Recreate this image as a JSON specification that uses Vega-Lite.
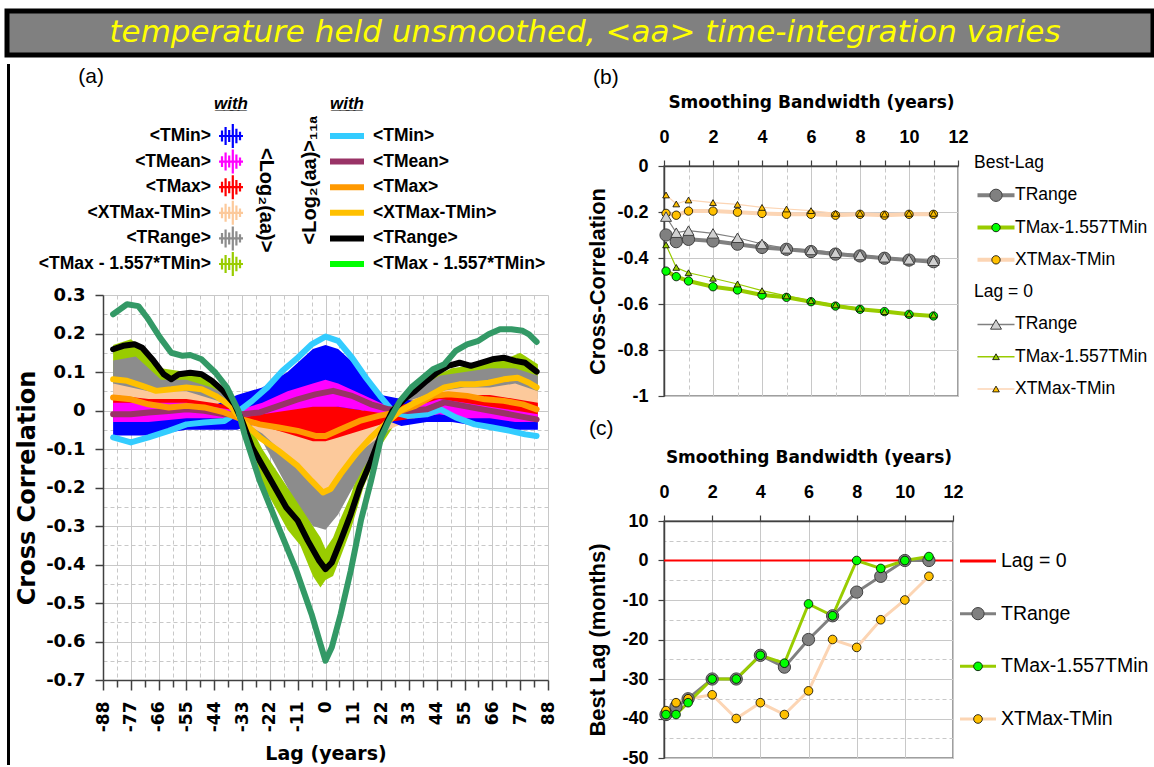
{
  "$schema": "https://vega.github.io/schema/vega-lite/v6.json",
  "padding": {"left": 4, "top": 8, "right": 0, "bottom": 0},
  "background": "#ffffff",
  "spacing": 6,
  "resolve": {"scale": {"color": "independent", "fill": "independent", "stroke": "independent"}},
  "config": {
    "view": {"stroke": null},
    "axis": {"domainColor": "#404040", "tickColor": "#404040", "gridColor": "#c8c8c8", "labelColor": "#000000", "titleColor": "#000000", "labelOverlap": false, "labelFlush": false},
    "title": {"color": "#000000"}
  },
  "datasets": {
    "aline": [
      {"s":"TMin","lag":-84,"v":-0.07},{"s":"TMin","lag":-77,"v":-0.083},{"s":"TMin","lag":-70,"v":-0.07},{"s":"TMin","lag":-62,"v":-0.053},{"s":"TMin","lag":-55,"v":-0.036},{"s":"TMin","lag":-48,"v":-0.031},{"s":"TMin","lag":-40,"v":-0.027},{"s":"TMin","lag":-35,"v":-0.005},{"s":"TMin","lag":-29,"v":0.025},{"s":"TMin","lag":-23,"v":0.06},{"s":"TMin","lag":-17,"v":0.103},{"s":"TMin","lag":-11,"v":0.137},{"s":"TMin","lag":-5.5,"v":0.172},{"s":"TMin","lag":0,"v":0.192},{"s":"TMin","lag":5,"v":0.181},{"s":"TMin","lag":10.5,"v":0.137},{"s":"TMin","lag":16,"v":0.085},{"s":"TMin","lag":22,"v":0.034},{"s":"TMin","lag":27,"v":-0.005},{"s":"TMin","lag":32.5,"v":-0.014},{"s":"TMin","lag":40,"v":-0.01},{"s":"TMin","lag":45.5,"v":0.003},{"s":"TMin","lag":51.5,"v":-0.018},{"s":"TMin","lag":59,"v":-0.036},{"s":"TMin","lag":66,"v":-0.044},{"s":"TMin","lag":73,"v":-0.053},{"s":"TMin","lag":79,"v":-0.062},{"s":"TMin","lag":83.5,"v":-0.066},
      {"s":"TMean","lag":-84,"v":-0.01},{"s":"TMean","lag":-77,"v":-0.01},{"s":"TMean","lag":-70,"v":-0.005},{"s":"TMean","lag":-62,"v":-0.001},{"s":"TMean","lag":-55,"v":0.003},{"s":"TMean","lag":-48,"v":-0.001},{"s":"TMean","lag":-40,"v":-0.01},{"s":"TMean","lag":-33,"v":-0.01},{"s":"TMean","lag":-26,"v":-0.005},{"s":"TMean","lag":-18.5,"v":0.012},{"s":"TMean","lag":-11,"v":0.029},{"s":"TMean","lag":-4,"v":0.042},{"s":"TMean","lag":3,"v":0.051},{"s":"TMean","lag":10.5,"v":0.038},{"s":"TMean","lag":18,"v":0.016},{"s":"TMean","lag":25,"v":0.003},{"s":"TMean","lag":32.5,"v":-0.001},{"s":"TMean","lag":40,"v":0.003},{"s":"TMean","lag":47,"v":0.021},{"s":"TMean","lag":54.5,"v":0.012},{"s":"TMean","lag":62,"v":0.003},{"s":"TMean","lag":69,"v":-0.005},{"s":"TMean","lag":76,"v":-0.014},{"s":"TMean","lag":83.5,"v":-0.023},
      {"s":"TMax","lag":-84,"v":0.034},{"s":"TMax","lag":-77,"v":0.029},{"s":"TMax","lag":-70,"v":0.016},{"s":"TMax","lag":-62,"v":0.008},{"s":"TMax","lag":-55,"v":0.012},{"s":"TMax","lag":-48,"v":0.008},{"s":"TMax","lag":-40,"v":-0.005},{"s":"TMax","lag":-33,"v":-0.023},{"s":"TMax","lag":-26,"v":-0.036},{"s":"TMax","lag":-18.5,"v":-0.044},{"s":"TMax","lag":-11,"v":-0.053},{"s":"TMax","lag":-4,"v":-0.066},{"s":"TMax","lag":0,"v":-0.066},{"s":"TMax","lag":6,"v":-0.049},{"s":"TMax","lag":13.5,"v":-0.027},{"s":"TMax","lag":21,"v":-0.014},{"s":"TMax","lag":28,"v":-0.005},{"s":"TMax","lag":35.5,"v":0.012},{"s":"TMax","lag":42.5,"v":0.038},{"s":"TMax","lag":48.5,"v":0.042},{"s":"TMax","lag":56,"v":0.038},{"s":"TMax","lag":63,"v":0.029},{"s":"TMax","lag":70.5,"v":0.025},{"s":"TMax","lag":78,"v":0.016},{"s":"TMax","lag":83.5,"v":0.003},
      {"s":"XTMax-TMin","lag":-84,"v":0.081},{"s":"XTMax-TMin","lag":-78.5,"v":0.077},{"s":"XTMax-TMin","lag":-72.5,"v":0.064},{"s":"XTMax-TMin","lag":-67,"v":0.051},{"s":"XTMax-TMin","lag":-61,"v":0.055},{"s":"XTMax-TMin","lag":-55,"v":0.06},{"s":"XTMax-TMin","lag":-49,"v":0.055},{"s":"XTMax-TMin","lag":-43.5,"v":0.038},{"s":"XTMax-TMin","lag":-37.5,"v":0.012},{"s":"XTMax-TMin","lag":-33,"v":-0.027},{"s":"XTMax-TMin","lag":-26,"v":-0.07},{"s":"XTMax-TMin","lag":-18.5,"v":-0.105},{"s":"XTMax-TMin","lag":-11,"v":-0.144},{"s":"XTMax-TMin","lag":-5.5,"v":-0.183},{"s":"XTMax-TMin","lag":-1,"v":-0.213},{"s":"XTMax-TMin","lag":2,"v":-0.204},{"s":"XTMax-TMin","lag":6,"v":-0.165},{"s":"XTMax-TMin","lag":12,"v":-0.113},{"s":"XTMax-TMin","lag":18,"v":-0.07},{"s":"XTMax-TMin","lag":23.5,"v":-0.036},{"s":"XTMax-TMin","lag":29.5,"v":-0.001},{"s":"XTMax-TMin","lag":35.5,"v":0.021},{"s":"XTMax-TMin","lag":41,"v":0.038},{"s":"XTMax-TMin","lag":47,"v":0.06},{"s":"XTMax-TMin","lag":53,"v":0.068},{"s":"XTMax-TMin","lag":59,"v":0.068},{"s":"XTMax-TMin","lag":64.5,"v":0.072},{"s":"XTMax-TMin","lag":70.5,"v":0.081},{"s":"XTMax-TMin","lag":76,"v":0.085},{"s":"XTMax-TMin","lag":80.5,"v":0.072},{"s":"XTMax-TMin","lag":83.5,"v":0.06},
      {"s":"TRange","lag":-84,"v":0.159},{"s":"TRange","lag":-80,"v":0.168},{"s":"TRange","lag":-75.5,"v":0.172},{"s":"TRange","lag":-72.5,"v":0.163},{"s":"TRange","lag":-68,"v":0.129},{"s":"TRange","lag":-64,"v":0.094},{"s":"TRange","lag":-61,"v":0.081},{"s":"TRange","lag":-58,"v":0.094},{"s":"TRange","lag":-53.5,"v":0.098},{"s":"TRange","lag":-49,"v":0.094},{"s":"TRange","lag":-45,"v":0.077},{"s":"TRange","lag":-40.5,"v":0.051},{"s":"TRange","lag":-36,"v":0.016},{"s":"TRange","lag":-33,"v":-0.027},{"s":"TRange","lag":-29,"v":-0.096},{"s":"TRange","lag":-24.5,"v":-0.148},{"s":"TRange","lag":-20,"v":-0.2},{"s":"TRange","lag":-15.5,"v":-0.252},{"s":"TRange","lag":-11,"v":-0.286},{"s":"TRange","lag":-7,"v":-0.338},{"s":"TRange","lag":-2.5,"v":-0.39},{"s":"TRange","lag":0,"v":-0.412},{"s":"TRange","lag":2.5,"v":-0.395},{"s":"TRange","lag":6,"v":-0.338},{"s":"TRange","lag":10,"v":-0.269},{"s":"TRange","lag":13.5,"v":-0.2},{"s":"TRange","lag":18,"v":-0.131},{"s":"TRange","lag":22,"v":-0.062},{"s":"TRange","lag":26.5,"v":-0.001},{"s":"TRange","lag":31,"v":0.029},{"s":"TRange","lag":35.5,"v":0.051},{"s":"TRange","lag":40,"v":0.077},{"s":"TRange","lag":44,"v":0.098},{"s":"TRange","lag":48.5,"v":0.116},{"s":"TRange","lag":53,"v":0.124},{"s":"TRange","lag":57.5,"v":0.116},{"s":"TRange","lag":61.5,"v":0.124},{"s":"TRange","lag":66,"v":0.133},{"s":"TRange","lag":70.5,"v":0.137},{"s":"TRange","lag":75,"v":0.129},{"s":"TRange","lag":79,"v":0.124},{"s":"TRange","lag":83.5,"v":0.101},
      {"s":"TMax - 1.557*TMin","lag":-84,"v":0.25},{"s":"TMax - 1.557*TMin","lag":-78.5,"v":0.276},{"s":"TMax - 1.557*TMin","lag":-74,"v":0.271},{"s":"TMax - 1.557*TMin","lag":-70.5,"v":0.241},{"s":"TMax - 1.557*TMin","lag":-65.5,"v":0.19},{"s":"TMax - 1.557*TMin","lag":-61,"v":0.15},{"s":"TMax - 1.557*TMin","lag":-56.5,"v":0.142},{"s":"TMax - 1.557*TMin","lag":-53.5,"v":0.144},{"s":"TMax - 1.557*TMin","lag":-49,"v":0.133},{"s":"TMax - 1.557*TMin","lag":-43.5,"v":0.098},{"s":"TMax - 1.557*TMin","lag":-39,"v":0.06},{"s":"TMax - 1.557*TMin","lag":-34.5,"v":0.0},{"s":"TMax - 1.557*TMin","lag":-32,"v":-0.062},{"s":"TMax - 1.557*TMin","lag":-26,"v":-0.183},{"s":"TMax - 1.557*TMin","lag":-18.5,"v":-0.304},{"s":"TMax - 1.557*TMin","lag":-11.5,"v":-0.416},{"s":"TMax - 1.557*TMin","lag":-5.5,"v":-0.529},{"s":"TMax - 1.557*TMin","lag":-2,"v":-0.607},{"s":"TMax - 1.557*TMin","lag":0,"v":-0.65},{"s":"TMax - 1.557*TMin","lag":2.5,"v":-0.615},{"s":"TMax - 1.557*TMin","lag":6,"v":-0.529},{"s":"TMax - 1.557*TMin","lag":10,"v":-0.416},{"s":"TMax - 1.557*TMin","lag":14,"v":-0.286},{"s":"TMax - 1.557*TMin","lag":18,"v":-0.183},{"s":"TMax - 1.557*TMin","lag":22,"v":-0.07},{"s":"TMax - 1.557*TMin","lag":25,"v":-0.027},{"s":"TMax - 1.557*TMin","lag":29.5,"v":0.025},{"s":"TMax - 1.557*TMin","lag":34,"v":0.06},{"s":"TMax - 1.557*TMin","lag":38.5,"v":0.085},{"s":"TMax - 1.557*TMin","lag":42.5,"v":0.107},{"s":"TMax - 1.557*TMin","lag":47,"v":0.12},{"s":"TMax - 1.557*TMin","lag":51.5,"v":0.155},{"s":"TMax - 1.557*TMin","lag":56,"v":0.172},{"s":"TMax - 1.557*TMin","lag":60.5,"v":0.181},{"s":"TMax - 1.557*TMin","lag":64.5,"v":0.198},{"s":"TMax - 1.557*TMin","lag":69,"v":0.211},{"s":"TMax - 1.557*TMin","lag":73.5,"v":0.211},{"s":"TMax - 1.557*TMin","lag":78,"v":0.207},{"s":"TMax - 1.557*TMin","lag":80.5,"v":0.198},{"s":"TMax - 1.557*TMin","lag":83.5,"v":0.178}
    ],
    "aband": [
      {"s":"TMax - 1.557*TMin","lag":-84,"lo":0.06,"hi":0.17},{"s":"TMax - 1.557*TMin","lag":-77,"lo":0.08,"hi":0.185},{"s":"TMax - 1.557*TMin","lag":-70,"lo":0.06,"hi":0.15},{"s":"TMax - 1.557*TMin","lag":-65,"lo":0.05,"hi":0.11},{"s":"TMax - 1.557*TMin","lag":-55,"lo":0.05,"hi":0.1},{"s":"TMax - 1.557*TMin","lag":-45,"lo":0.02,"hi":0.08},{"s":"TMax - 1.557*TMin","lag":-38,"lo":-0.01,"hi":0.04},{"s":"TMax - 1.557*TMin","lag":-33,"lo":-0.05,"hi":0.0},{"s":"TMax - 1.557*TMin","lag":-25,"lo":-0.19,"hi":-0.1},{"s":"TMax - 1.557*TMin","lag":-15,"lo":-0.31,"hi":-0.2},{"s":"TMax - 1.557*TMin","lag":-10,"lo":-0.35,"hi":-0.24},{"s":"TMax - 1.557*TMin","lag":-5,"lo":-0.43,"hi":-0.3},{"s":"TMax - 1.557*TMin","lag":-2,"lo":-0.46,"hi":-0.33},{"s":"TMax - 1.557*TMin","lag":0,"lo":-0.44,"hi":-0.36},{"s":"TMax - 1.557*TMin","lag":3,"lo":-0.43,"hi":-0.33},{"s":"TMax - 1.557*TMin","lag":6,"lo":-0.38,"hi":-0.28},{"s":"TMax - 1.557*TMin","lag":10,"lo":-0.31,"hi":-0.22},{"s":"TMax - 1.557*TMin","lag":15,"lo":-0.2,"hi":-0.12},{"s":"TMax - 1.557*TMin","lag":22,"lo":-0.09,"hi":-0.03},{"s":"TMax - 1.557*TMin","lag":30,"lo":-0.01,"hi":0.04},{"s":"TMax - 1.557*TMin","lag":40,"lo":0.03,"hi":0.08},{"s":"TMax - 1.557*TMin","lag":50,"lo":0.05,"hi":0.11},{"s":"TMax - 1.557*TMin","lag":60,"lo":0.06,"hi":0.12},{"s":"TMax - 1.557*TMin","lag":70,"lo":0.07,"hi":0.13},{"s":"TMax - 1.557*TMin","lag":77,"lo":0.07,"hi":0.15},{"s":"TMax - 1.557*TMin","lag":84,"lo":0.06,"hi":0.12},
      {"s":"TRange","lag":-84,"lo":0.02,"hi":0.13},{"s":"TRange","lag":-75,"lo":0.03,"hi":0.14},{"s":"TRange","lag":-65,"lo":0.02,"hi":0.08},{"s":"TRange","lag":-55,"lo":0.02,"hi":0.08},{"s":"TRange","lag":-45,"lo":0.0,"hi":0.06},{"s":"TRange","lag":-35,"lo":-0.02,"hi":0.03},{"s":"TRange","lag":-25,"lo":-0.08,"hi":-0.02},{"s":"TRange","lag":-15,"lo":-0.2,"hi":-0.05},{"s":"TRange","lag":-5,"lo":-0.3,"hi":-0.08},{"s":"TRange","lag":0,"lo":-0.31,"hi":-0.1},{"s":"TRange","lag":5,"lo":-0.27,"hi":-0.08},{"s":"TRange","lag":15,"lo":-0.15,"hi":-0.04},{"s":"TRange","lag":25,"lo":-0.05,"hi":0.02},{"s":"TRange","lag":35,"lo":0.0,"hi":0.05},{"s":"TRange","lag":45,"lo":0.02,"hi":0.09},{"s":"TRange","lag":55,"lo":0.03,"hi":0.1},{"s":"TRange","lag":65,"lo":0.03,"hi":0.11},{"s":"TRange","lag":75,"lo":0.04,"hi":0.11},{"s":"TRange","lag":84,"lo":0.03,"hi":0.09},
      {"s":"XTMax-TMin","lag":-84,"lo":0.0,"hi":0.07},{"s":"XTMax-TMin","lag":-70,"lo":0.0,"hi":0.05},{"s":"XTMax-TMin","lag":-55,"lo":0.0,"hi":0.05},{"s":"XTMax-TMin","lag":-45,"lo":0.0,"hi":0.03},{"s":"XTMax-TMin","lag":-35,"lo":-0.02,"hi":0.01},{"s":"XTMax-TMin","lag":-25,"lo":-0.06,"hi":-0.02},{"s":"XTMax-TMin","lag":-15,"lo":-0.12,"hi":-0.04},{"s":"XTMax-TMin","lag":-5,"lo":-0.18,"hi":-0.06},{"s":"XTMax-TMin","lag":0,"lo":-0.21,"hi":-0.07},{"s":"XTMax-TMin","lag":5,"lo":-0.18,"hi":-0.06},{"s":"XTMax-TMin","lag":15,"lo":-0.1,"hi":-0.03},{"s":"XTMax-TMin","lag":25,"lo":-0.05,"hi":0.0},{"s":"XTMax-TMin","lag":35,"lo":-0.02,"hi":0.03},{"s":"XTMax-TMin","lag":45,"lo":0.0,"hi":0.05},{"s":"XTMax-TMin","lag":55,"lo":0.0,"hi":0.06},{"s":"XTMax-TMin","lag":65,"lo":0.0,"hi":0.06},{"s":"XTMax-TMin","lag":75,"lo":0.0,"hi":0.07},{"s":"XTMax-TMin","lag":84,"lo":0.0,"hi":0.05},
      {"s":"TMin","lag":-84,"lo":-0.065,"hi":0.0},{"s":"TMin","lag":-70,"lo":-0.065,"hi":0.0},{"s":"TMin","lag":-55,"lo":-0.05,"hi":0.0},{"s":"TMin","lag":-45,"lo":-0.05,"hi":0.01},{"s":"TMin","lag":-35,"lo":-0.05,"hi":0.04},{"s":"TMin","lag":-25,"lo":-0.03,"hi":0.06},{"s":"TMin","lag":-15,"lo":-0.02,"hi":0.1},{"s":"TMin","lag":-5,"lo":0.0,"hi":0.16},{"s":"TMin","lag":0,"lo":0.0,"hi":0.17},{"s":"TMin","lag":5,"lo":0.0,"hi":0.16},{"s":"TMin","lag":15,"lo":0.0,"hi":0.1},{"s":"TMin","lag":22,"lo":-0.02,"hi":0.04},{"s":"TMin","lag":30,"lo":-0.04,"hi":0.03},{"s":"TMin","lag":40,"lo":-0.03,"hi":0.02},{"s":"TMin","lag":50,"lo":-0.03,"hi":0.01},{"s":"TMin","lag":60,"lo":-0.04,"hi":0.0},{"s":"TMin","lag":70,"lo":-0.05,"hi":-0.01},{"s":"TMin","lag":84,"lo":-0.05,"hi":-0.02},
      {"s":"TMax","lag":-84,"lo":-0.02,"hi":0.04},{"s":"TMax","lag":-70,"lo":-0.02,"hi":0.03},{"s":"TMax","lag":-55,"lo":-0.01,"hi":0.03},{"s":"TMax","lag":-45,"lo":-0.02,"hi":0.02},{"s":"TMax","lag":-35,"lo":-0.02,"hi":0.01},{"s":"TMax","lag":-25,"lo":-0.04,"hi":0.0},{"s":"TMax","lag":-15,"lo":-0.06,"hi":0.01},{"s":"TMax","lag":-5,"lo":-0.08,"hi":0.02},{"s":"TMax","lag":0,"lo":-0.08,"hi":0.02},{"s":"TMax","lag":5,"lo":-0.07,"hi":0.01},{"s":"TMax","lag":15,"lo":-0.05,"hi":0.0},{"s":"TMax","lag":25,"lo":-0.03,"hi":0.01},{"s":"TMax","lag":35,"lo":-0.02,"hi":0.02},{"s":"TMax","lag":45,"lo":0.0,"hi":0.04},{"s":"TMax","lag":55,"lo":-0.01,"hi":0.04},{"s":"TMax","lag":65,"lo":-0.01,"hi":0.04},{"s":"TMax","lag":75,"lo":-0.01,"hi":0.03},{"s":"TMax","lag":84,"lo":-0.02,"hi":0.02},
      {"s":"TMean","lag":-84,"lo":-0.03,"hi":0.02},{"s":"TMean","lag":-70,"lo":-0.03,"hi":0.02},{"s":"TMean","lag":-55,"lo":-0.02,"hi":0.02},{"s":"TMean","lag":-45,"lo":-0.02,"hi":0.01},{"s":"TMean","lag":-35,"lo":-0.02,"hi":0.0},{"s":"TMean","lag":-25,"lo":-0.01,"hi":0.02},{"s":"TMean","lag":-15,"lo":0.0,"hi":0.05},{"s":"TMean","lag":-5,"lo":0.01,"hi":0.07},{"s":"TMean","lag":0,"lo":0.01,"hi":0.08},{"s":"TMean","lag":5,"lo":0.01,"hi":0.07},{"s":"TMean","lag":15,"lo":0.0,"hi":0.04},{"s":"TMean","lag":25,"lo":-0.01,"hi":0.01},{"s":"TMean","lag":35,"lo":-0.02,"hi":0.01},{"s":"TMean","lag":45,"lo":-0.01,"hi":0.03},{"s":"TMean","lag":55,"lo":-0.02,"hi":0.02},{"s":"TMean","lag":65,"lo":-0.02,"hi":0.01},{"s":"TMean","lag":75,"lo":-0.03,"hi":0.0},{"s":"TMean","lag":84,"lo":-0.03,"hi":-0.01}
    ],
    "legA": [
      {"part":"tag","row":"with","label":"(a)"},
      {"part":"head1","row":"with","label":"w̲i̲t̲h̲"},
      {"part":"head2","row":"with","label":"w̲i̲t̲h̲"},
      {"part":"raw","row":"TMin","label":"<TMin>"},
      {"part":"raw","row":"TMean","label":"<TMean>"},
      {"part":"raw","row":"TMax","label":"<TMax>"},
      {"part":"raw","row":"XTMax-TMin","label":"<XTMax-TMin>"},
      {"part":"raw","row":"TRange","label":"<TRange>"},
      {"part":"raw","row":"TMax - 1.557*TMin","label":"<TMax - 1.557*TMin>"},
      {"part":"smooth","row":"TMin","label":"<TMin>"},
      {"part":"smooth","row":"TMean","label":"<TMean>"},
      {"part":"smooth","row":"TMax","label":"<TMax>"},
      {"part":"smooth","row":"XTMax-TMin","label":"<XTMax-TMin>"},
      {"part":"smooth","row":"TRange","label":"<TRange>"},
      {"part":"smooth","row":"TMax - 1.557*TMin","label":"<TMax - 1.557*TMin>"},
      {"part":"rot1","row":"TMax","label":"<Log₂(aa)>"},
      {"part":"rot2","row":"TMax","label":"<Log₂(aa)>₁₁ₐ"}
    ],
    "bdata": [
      {"ser":"TRange","bw":0.083,"best":-0.3,"lag0":-0.22},{"ser":"TRange","bw":0.5,"best":-0.329,"lag0":-0.29},{"ser":"TRange","bw":1,"best":-0.319,"lag0":-0.281},{"ser":"TRange","bw":2,"best":-0.326,"lag0":-0.293},{"ser":"TRange","bw":3,"best":-0.34,"lag0":-0.312},{"ser":"TRange","bw":4,"best":-0.354,"lag0":-0.339},{"ser":"TRange","bw":5,"best":-0.362,"lag0":-0.358},{"ser":"TRange","bw":6,"best":-0.372,"lag0":-0.365},{"ser":"TRange","bw":7,"best":-0.383,"lag0":-0.377},{"ser":"TRange","bw":8,"best":-0.391,"lag0":-0.387},{"ser":"TRange","bw":9,"best":-0.401,"lag0":-0.397},{"ser":"TRange","bw":10,"best":-0.409,"lag0":-0.406},{"ser":"TRange","bw":11,"best":-0.416,"lag0":-0.412},
      {"ser":"TMax-1.557TMin","bw":0.083,"best":-0.457,"lag0":-0.343},{"ser":"TMax-1.557TMin","bw":0.5,"best":-0.481,"lag0":-0.441},{"ser":"TMax-1.557TMin","bw":1,"best":-0.5,"lag0":-0.464},{"ser":"TMax-1.557TMin","bw":2,"best":-0.525,"lag0":-0.488},{"ser":"TMax-1.557TMin","bw":3,"best":-0.539,"lag0":-0.513},{"ser":"TMax-1.557TMin","bw":4,"best":-0.561,"lag0":-0.542},{"ser":"TMax-1.557TMin","bw":5,"best":-0.571,"lag0":-0.565},{"ser":"TMax-1.557TMin","bw":6,"best":-0.59,"lag0":-0.586},{"ser":"TMax-1.557TMin","bw":7,"best":-0.609,"lag0":-0.604},{"ser":"TMax-1.557TMin","bw":8,"best":-0.623,"lag0":-0.619},{"ser":"TMax-1.557TMin","bw":9,"best":-0.633,"lag0":-0.633},{"ser":"TMax-1.557TMin","bw":10,"best":-0.645,"lag0":-0.643},{"ser":"TMax-1.557TMin","bw":11,"best":-0.652,"lag0":-0.648},
      {"ser":"XTMax-TMin","bw":0.083,"best":-0.206,"lag0":-0.126},{"ser":"XTMax-TMin","bw":0.5,"best":-0.214,"lag0":-0.165},{"ser":"XTMax-TMin","bw":1,"best":-0.196,"lag0":-0.148},{"ser":"XTMax-TMin","bw":2,"best":-0.196,"lag0":-0.159},{"ser":"XTMax-TMin","bw":3,"best":-0.201,"lag0":-0.167},{"ser":"XTMax-TMin","bw":4,"best":-0.206,"lag0":-0.18},{"ser":"XTMax-TMin","bw":5,"best":-0.21,"lag0":-0.187},{"ser":"XTMax-TMin","bw":6,"best":-0.21,"lag0":-0.194},{"ser":"XTMax-TMin","bw":7,"best":-0.214,"lag0":-0.206},{"ser":"XTMax-TMin","bw":8,"best":-0.21,"lag0":-0.206},{"ser":"XTMax-TMin","bw":9,"best":-0.214,"lag0":-0.209},{"ser":"XTMax-TMin","bw":10,"best":-0.21,"lag0":-0.206},{"ser":"XTMax-TMin","bw":11,"best":-0.21,"lag0":-0.206}
    ],
    "cdata": [
      {"ser":"XTMax-TMin","bw":0.083,"lag":-38},{"ser":"XTMax-TMin","bw":0.5,"lag":-36},{"ser":"XTMax-TMin","bw":1,"lag":-35},{"ser":"XTMax-TMin","bw":2,"lag":-34},{"ser":"XTMax-TMin","bw":3,"lag":-40},{"ser":"XTMax-TMin","bw":4,"lag":-36},{"ser":"XTMax-TMin","bw":5,"lag":-39},{"ser":"XTMax-TMin","bw":6,"lag":-33},{"ser":"XTMax-TMin","bw":7,"lag":-20},{"ser":"XTMax-TMin","bw":8,"lag":-22},{"ser":"XTMax-TMin","bw":9,"lag":-15},{"ser":"XTMax-TMin","bw":10,"lag":-10},{"ser":"XTMax-TMin","bw":11,"lag":-4},
      {"ser":"TRange","bw":0.083,"lag":-39},{"ser":"TRange","bw":0.5,"lag":-37},{"ser":"TRange","bw":1,"lag":-35},{"ser":"TRange","bw":2,"lag":-30},{"ser":"TRange","bw":3,"lag":-30},{"ser":"TRange","bw":4,"lag":-24},{"ser":"TRange","bw":5,"lag":-27},{"ser":"TRange","bw":6,"lag":-20},{"ser":"TRange","bw":7,"lag":-14},{"ser":"TRange","bw":8,"lag":-8},{"ser":"TRange","bw":9,"lag":-4},{"ser":"TRange","bw":10,"lag":0},{"ser":"TRange","bw":11,"lag":0},
      {"ser":"TMax-1.557TMin","bw":0.083,"lag":-39},{"ser":"TMax-1.557TMin","bw":0.5,"lag":-39},{"ser":"TMax-1.557TMin","bw":1,"lag":-36},{"ser":"TMax-1.557TMin","bw":2,"lag":-30},{"ser":"TMax-1.557TMin","bw":3,"lag":-30},{"ser":"TMax-1.557TMin","bw":4,"lag":-24},{"ser":"TMax-1.557TMin","bw":5,"lag":-26},{"ser":"TMax-1.557TMin","bw":6,"lag":-11},{"ser":"TMax-1.557TMin","bw":7,"lag":-14},{"ser":"TMax-1.557TMin","bw":8,"lag":0},{"ser":"TMax-1.557TMin","bw":9,"lag":-2},{"ser":"TMax-1.557TMin","bw":10,"lag":0},{"ser":"TMax-1.557TMin","bw":11,"lag":1}
    ],
    "legB": [
      {"key":"h1","part":"head","label":"Best-Lag"},
      {"key":"b1","part":"best","ser":"TRange","label":"TRange"},
      {"key":"b2","part":"best","ser":"TMax-1.557TMin","label":"TMax-1.557TMin"},
      {"key":"b3","part":"best","ser":"XTMax-TMin","label":"XTMax-TMin"},
      {"key":"h2","part":"head","label":"Lag = 0"},
      {"key":"z1","part":"lag0","ser":"TRange","label":"TRange"},
      {"key":"z2","part":"lag0","ser":"TMax-1.557TMin","label":"TMax-1.557TMin"},
      {"key":"z3","part":"lag0","ser":"XTMax-TMin","label":"XTMax-TMin"}
    ],
    "legC": [
      {"key":"r0","part":"zero","ser":"Lag = 0","label":"Lag = 0"},
      {"key":"r1","part":"best","ser":"TRange","label":"TRange"},
      {"key":"r2","part":"best","ser":"TMax-1.557TMin","label":"TMax-1.557TMin"},
      {"key":"r3","part":"best","ser":"XTMax-TMin","label":"XTMax-TMin"}
    ]
  },
  "vconcat": [
    {
      "width": 1146, "height": 44,
      "view": {"fill": "#808080", "stroke": "#000000", "strokeWidth": 5},
      "data": {"values": [{"caption": "temperature held unsmoothed, <aa> time-integration varies"}]},
      "mark": {"type": "text", "font": "DejaVu Sans", "fontStyle": "italic", "fontSize": 31, "color": "#ffff00", "align": "center", "baseline": "middle", "dx": 5},
      "encoding": {"text": {"field": "caption"}}
    },
    {
      "spacing": 5,
      "resolve": {"scale": {"color": "independent", "fill": "independent", "stroke": "independent"}},
      "hconcat": [
        {
          "width": 3, "height": 701,
          "view": {"fill": "#000000"},
          "data": {"values": [{"t": 0}]},
          "mark": {"type": "point", "size": 0, "opacity": 0},
          "encoding": {}
        },
        {
          "spacing": 30,
          "resolve": {"scale": {"color": "independent", "fill": "independent", "stroke": "independent"}},
          "hconcat": [
            {
              "spacing": 5,
              "resolve": {"scale": {"color": "independent", "fill": "independent", "stroke": "independent"}},
              "vconcat": [
                {
                  "width": 300, "height": 210,
                  "data": {"name": "legA"},
                  "encoding": {"y": {"field": "row", "type": "nominal", "scale": {"type": "point", "domain": ["with","TMin","TMean","TMax","XTMax-TMin","TRange","TMax - 1.557*TMin"], "range": [46.4, 200], "padding": 0}, "axis": null}},
                  "layer": [
                    {"transform": [{"filter": "datum.part === 'raw'"}],
                     "mark": {"type": "text", "align": "right", "baseline": "middle", "font": "Liberation Sans", "fontSize": 17.5, "fontWeight": "bold"},
                     "encoding": {"x": {"datum": "lab1", "type": "nominal", "scale": {"type": "point", "domain": ["lab1","sym1","rot1","rot2","sym2","lab2"], "range": [108, 270], "padding": 0}, "axis": null}, "text": {"field": "label"}}},
                    {"transform": [{"filter": "datum.part === 'tag'"}],
                     "mark": {"type": "text", "align": "right", "baseline": "middle", "font": "Liberation Sans", "fontSize": 21, "xOffset": -107, "yOffset": -33},
                     "encoding": {"x": {"datum": "lab1", "type": "nominal"}, "text": {"field": "label"}}},
                    {"transform": [{"filter": "datum.part === 'raw'"}],
                     "mark": {"type": "point", "shape": "M-1,0H1M-0.75,-0.45V0.45M-0.45,-0.75V0.75M-0.15,-0.5V0.5M0.15,-1V1M0.45,-0.6V0.6M0.75,-0.35V0.35", "size": 576, "filled": false, "strokeWidth": 2.2, "opacity": 1, "xOffset": -12.4},
                     "encoding": {"x": {"datum": "sym1", "type": "nominal"}, "stroke": {"field": "row", "type": "nominal", "scale": {"domain": ["TMin","TMean","TMax","XTMax-TMin","TRange","TMax - 1.557*TMin"], "range": ["#0000ff","#ff00ff","#ff0000","#fcc99b","#8c8c8c","#99cc00"]}, "legend": null}}},
                    {"transform": [{"filter": "datum.part === 'smooth'"}],
                     "mark": {"type": "point", "shape": "stroke", "size": 1156, "filled": false, "strokeWidth": 6, "opacity": 1, "xOffset": 6.4},
                     "encoding": {"x": {"datum": "sym2", "type": "nominal"}, "color": {"field": "row", "type": "nominal", "scale": {"domain": ["TMin","TMean","TMax","XTMax-TMin","TRange","TMax - 1.557*TMin"], "range": ["#33ccff","#993366","#ff9900","#ffc000","#000000","#00ff00"]}, "legend": null}}},
                    {"transform": [{"filter": "datum.part === 'smooth'"}],
                     "mark": {"type": "text", "align": "left", "baseline": "middle", "font": "Liberation Sans", "fontSize": 17.5, "fontWeight": "bold"},
                     "encoding": {"x": {"datum": "lab2", "type": "nominal"}, "text": {"field": "label"}}},
                    {"transform": [{"filter": "datum.part === 'head1'"}],
                     "mark": {"type": "text", "align": "center", "baseline": "middle", "font": "Liberation Sans", "fontSize": 17, "fontWeight": "bold", "fontStyle": "italic", "xOffset": -12.4, "yOffset": -6},
                     "encoding": {"x": {"datum": "sym1", "type": "nominal"}, "text": {"field": "label"}}},
                    {"transform": [{"filter": "datum.part === 'head2'"}],
                     "mark": {"type": "text", "align": "center", "baseline": "middle", "font": "Liberation Sans", "fontSize": 17, "fontWeight": "bold", "fontStyle": "italic", "xOffset": 6.4, "yOffset": -6},
                     "encoding": {"x": {"datum": "sym2", "type": "nominal"}, "text": {"field": "label"}}},
                    {"transform": [{"filter": "datum.part === 'rot1'"}],
                     "mark": {"type": "text", "angle": 90, "align": "center", "baseline": "middle", "font": "Liberation Sans", "fontSize": 20, "fontWeight": "bold", "xOffset": -9.8, "yOffset": 13},
                     "encoding": {"x": {"datum": "rot1", "type": "nominal"}, "text": {"field": "label"}}},
                    {"transform": [{"filter": "datum.part === 'rot2'"}],
                     "mark": {"type": "text", "angle": 270, "align": "center", "baseline": "middle", "font": "Liberation Sans", "fontSize": 20, "fontWeight": "bold", "xOffset": 1.8, "yOffset": -7},
                     "encoding": {"x": {"datum": "rot2", "type": "nominal"}, "text": {"field": "label"}}}
                  ]
                },
                {
                  "width": 445, "height": 385,
                  "resolve": {"axis": {"y": "independent"}},
                  "encoding": {"x": {"field": "lag", "type": "quantitative", "scale": {"domain": [-88, 88], "nice": false, "zero": false},
                    "axis": {"title": "Lag (years)",
                      "values": [-88,-82.5,-77,-71.5,-66,-60.5,-55,-49.5,-44,-38.5,-33,-27.5,-22,-16.5,-11,-5.5,0,5.5,11,16.5,22,27.5,33,38.5,44,49.5,55,60.5,66,71.5,77,82.5,88],
                      "labelExpr": "abs(datum.value % 11) < 0.01 ? replace(datum.label, '−', '-') : ''",
                      "labelOverlap": false,
                      "labelAngle": -90, "labelFont": "DejaVu Sans", "labelFontWeight": "bold", "labelFontSize": 17, "labelPadding": 11,
                      "tickSize": {"condition": {"test": "abs(datum.value % 11) < 0.01", "value": 10}, "value": 7},
                      "tickWidth": 1.5, "domainWidth": 1.5,
                      "grid": true,
                      "gridDash": {"condition": {"test": "abs(datum.value % 11) < 0.01", "value": []}, "value": [4, 3]},
                      "titleFont": "DejaVu Sans", "titleFontSize": 19, "titleFontWeight": "bold", "titlePadding": 13}}},
                  "layer": [
                    {"data": {"name": "aband"}, "transform": [{"filter": "datum.s === 'TMax - 1.557*TMin'"}], "mark": {"type": "area"},
                     "encoding": {"y": {"field": "lo", "type": "quantitative", "scale": {"domain": [-0.7, 0.3], "nice": false, "zero": false},
                        "axis": {"title": "Cross Correlation",
                          "values": [0.3,0.2,0.1,0,-0.1,-0.2,-0.3,-0.4,-0.5,-0.6,-0.7],
                          "format": "~g",
                          "labelExpr": "replace(datum.label, '−', '-')",
                          "labelOverlap": false,
                          "labelFont": "DejaVu Sans", "labelFontWeight": "bold", "labelFontSize": 18, "labelPadding": 10,
                          "tickSize": 8, "tickWidth": 1.5, "domainWidth": 1.5,
                          "grid": true,
                          "titleFont": "DejaVu Sans", "titleFontSize": 24, "titleFontWeight": "bold", "titlePadding": 6}},
                       "y2": {"field": "hi"},
                       "fill": {"field": "s", "type": "nominal", "scale": {"domain": ["TMin","TMean","TMax","XTMax-TMin","TRange","TMax - 1.557*TMin"], "range": ["#0000ff","#ff00ff","#ff0000","#fcc99b","#8c8c8c","#99cc00"]}, "legend": null}}},
                    {"data": {"name": "aband"}, "transform": [{"filter": "datum.s === 'TRange'"}], "mark": {"type": "area"},
                     "encoding": {"y": {"field": "lo", "type": "quantitative",
                        "axis": {"orient": "right", "title": null, "values": [0.25,0.15,0.05,-0.05,-0.15,-0.25,-0.35,-0.45,-0.55,-0.65], "labels": false, "ticks": false, "domain": false, "grid": true, "gridDash": [4, 3]}},
                       "y2": {"field": "hi"}, "fill": {"field": "s", "type": "nominal", "legend": null}}},
                    {"data": {"name": "aband"}, "transform": [{"filter": "datum.s === 'XTMax-TMin'"}], "mark": {"type": "area"},
                     "encoding": {"y": {"field": "lo", "type": "quantitative", "axis": null}, "y2": {"field": "hi"}, "fill": {"field": "s", "type": "nominal", "legend": null}}},
                    {"data": {"name": "aband"}, "transform": [{"filter": "datum.s === 'TMin'"}], "mark": {"type": "area"},
                     "encoding": {"y": {"field": "lo", "type": "quantitative", "axis": null}, "y2": {"field": "hi"}, "fill": {"field": "s", "type": "nominal", "legend": null}}},
                    {"data": {"name": "aband"}, "transform": [{"filter": "datum.s === 'TMax'"}], "mark": {"type": "area"},
                     "encoding": {"y": {"field": "lo", "type": "quantitative", "axis": null}, "y2": {"field": "hi"}, "fill": {"field": "s", "type": "nominal", "legend": null}}},
                    {"data": {"name": "aband"}, "transform": [{"filter": "datum.s === 'TMean'"}], "mark": {"type": "area"},
                     "encoding": {"y": {"field": "lo", "type": "quantitative", "axis": null}, "y2": {"field": "hi"}, "fill": {"field": "s", "type": "nominal", "legend": null}}},
                    {"data": {"name": "aline"}, "mark": {"type": "line", "strokeWidth": 6, "strokeJoin": "round", "strokeCap": "round"},
                     "encoding": {"y": {"field": "v", "type": "quantitative", "axis": null},
                       "stroke": {"field": "s", "type": "nominal", "scale": {"domain": ["TMin","TMean","TMax","XTMax-TMin","TRange","TMax - 1.557*TMin"], "range": ["#33ccff","#993366","#ff9900","#ffc000","#000000","#339966"]}, "legend": null}}}
                  ]
                }
              ]
            },
            {
              "spacing": 1,
              "resolve": {"scale": {"color": "independent", "fill": "independent", "stroke": "independent"}},
              "vconcat": [
                {
                  "width": 1, "height": 1,
                  "data": {"values": [{"t": 0}]},
                  "mark": {"type": "point", "size": 0, "opacity": 0},
                  "encoding": {}
                },
                {
                  "spacing": 11,
                  "resolve": {"scale": {"color": "independent", "fill": "independent", "stroke": "independent"}},
                  "vconcat": [
                    {
                      "spacing": 0,
                      "resolve": {"scale": {"color": "independent", "fill": "independent", "stroke": "independent"}},
                      "hconcat": [
                        {
                          "width": 294, "height": 230,
                          "title": {"text": "(b)", "anchor": "start", "dx": 6, "font": "Liberation Sans", "fontSize": 21, "fontWeight": "normal", "offset": 5},
                          "view": {"stroke": "#808080", "strokeWidth": 1.5},
                          "data": {"name": "bdata"},
                          "encoding": {"x": {"field": "bw", "type": "quantitative", "scale": {"domain": [0, 12], "nice": false, "zero": false},
                            "axis": {"orient": "top", "title": "Smoothing Bandwidth (years)",
                              "values": [0,1,2,3,4,5,6,7,8,9,10,11,12],
                              "labelExpr": "datum.value % 2 === 0 ? datum.label : ''",
                              "labelOverlap": false,
                              "labelFont": "Liberation Sans", "labelFontWeight": "bold", "labelFontSize": 18, "labelPadding": 14,
                              "tickSize": 6, "tickWidth": 1.2, "domainWidth": 1.5,
                              "grid": true,
                              "gridDash": {"condition": {"test": "datum.value % 2 === 0", "value": []}, "value": [4, 3]},
                              "titleFont": "DejaVu Sans", "titleFontSize": 17, "titleFontWeight": "bold", "titlePadding": 17}}},
                          "layer": [
                            {"mark": {"type": "line", "strokeWidth": 1.2},
                             "encoding": {"y": {"field": "lag0", "type": "quantitative", "scale": {"domain": [-1, 0], "nice": false, "zero": false},
                                "axis": {"title": "Cross-Correlation",
                                  "values": [0,-0.1,-0.2,-0.3,-0.4,-0.5,-0.6,-0.7,-0.8,-0.9,-1],
                                  "format": "~g",
                                  "labelExpr": "abs(datum.value*5 - round(datum.value*5)) < 0.001 ? replace(datum.label, '−', '-') : ''",
                                  "labelOverlap": false,
                                  "labelFont": "Liberation Sans", "labelFontWeight": "bold", "labelFontSize": 18, "labelPadding": 10,
                                  "tickSize": 6, "tickWidth": 1.2, "domainWidth": 1.5,
                                  "grid": true,
                                  "gridDash": {"condition": {"test": "abs(datum.value*5 - round(datum.value*5)) < 0.001", "value": []}, "value": [4, 3]},
                                  "titleFont": "Liberation Sans", "titleFontSize": 22, "titleFontWeight": "bold", "titlePadding": 7}},
                               "stroke": {"field": "ser", "type": "nominal", "scale": {"domain": ["TRange","TMax-1.557TMin","XTMax-TMin","Lag = 0"], "range": ["#808080","#99cc00","#fcd5b4","#ff0000"]}, "legend": null}}},
                            {"mark": {"type": "line", "strokeWidth": 4},
                             "encoding": {"y": {"field": "best", "type": "quantitative"}, "stroke": {"field": "ser", "type": "nominal", "legend": null}}},
                            {"transform": [{"filter": "datum.ser === 'TRange'"}],
                             "mark": {"type": "point", "shape": "circle", "filled": true, "size": 150, "stroke": "#404040", "strokeWidth": 1, "opacity": 1},
                             "encoding": {"y": {"field": "best", "type": "quantitative"}, "fill": {"field": "ser", "type": "nominal", "scale": {"domain": ["TRange","TMax-1.557TMin","XTMax-TMin"], "range": ["#808080","#00ff00","#ffc000"]}, "legend": null}}},
                            {"transform": [{"filter": "datum.ser !== 'TRange'"}],
                             "mark": {"type": "point", "shape": "circle", "filled": true, "size": 70, "stroke": "#000000", "strokeWidth": 0.8, "opacity": 1},
                             "encoding": {"y": {"field": "best", "type": "quantitative"}, "fill": {"field": "ser", "type": "nominal", "legend": null}}},
                            {"transform": [{"filter": "datum.ser === 'TRange'"}],
                             "mark": {"type": "point", "shape": "triangle-up", "filled": true, "size": 120, "stroke": "#404040", "strokeWidth": 1, "opacity": 1},
                             "encoding": {"y": {"field": "lag0", "type": "quantitative"}, "color": {"field": "ser", "type": "nominal", "scale": {"domain": ["TRange","TMax-1.557TMin","XTMax-TMin"], "range": ["#d0d0d0","#99cc00","#ffc000"]}, "legend": null}}},
                            {"transform": [{"filter": "datum.ser !== 'TRange'"}],
                             "mark": {"type": "point", "shape": "triangle-up", "filled": true, "size": 45, "stroke": "#000000", "strokeWidth": 0.8, "opacity": 1},
                             "encoding": {"y": {"field": "lag0", "type": "quantitative"}, "color": {"field": "ser", "type": "nominal", "legend": null}}}
                          ]
                        },
                        {
                          "width": 180, "height": 230,
                          "data": {"name": "legB"},
                          "encoding": {"y": {"field": "key", "type": "nominal", "scale": {"type": "point", "domain": ["h1","b1","b2","b3","h2","z1","z2","z3"], "range": [-3, 223], "padding": 0}, "axis": null}},
                          "layer": [
                            {"transform": [{"filter": "datum.part === 'best'"}],
                             "mark": {"type": "point", "shape": "stroke", "size": 1369, "filled": false, "strokeWidth": 4, "opacity": 1},
                             "encoding": {"x": {"datum": "sym", "type": "nominal", "scale": {"type": "point", "domain": ["sym","lab"], "range": [21, 40], "padding": 0}, "axis": null},
                               "stroke": {"field": "ser", "type": "nominal", "scale": {"domain": ["TRange","TMax-1.557TMin","XTMax-TMin","Lag = 0"], "range": ["#808080","#99cc00","#fcd5b4","#ff0000"]}, "legend": null}}},
                            {"transform": [{"filter": "datum.part === 'lag0'"}],
                             "mark": {"type": "point", "shape": "stroke", "size": 1369, "filled": false, "strokeWidth": 1.5, "opacity": 1},
                             "encoding": {"x": {"datum": "sym", "type": "nominal"}, "stroke": {"field": "ser", "type": "nominal", "legend": null}}},
                            {"transform": [{"filter": "datum.part === 'best' && datum.ser === 'TRange'"}],
                             "mark": {"type": "point", "shape": "circle", "filled": true, "size": 150, "stroke": "#404040", "strokeWidth": 1, "opacity": 1},
                             "encoding": {"x": {"datum": "sym", "type": "nominal"}, "fill": {"field": "ser", "type": "nominal", "scale": {"domain": ["TRange","TMax-1.557TMin","XTMax-TMin"], "range": ["#808080","#00ff00","#ffc000"]}, "legend": null}}},
                            {"transform": [{"filter": "datum.part === 'best' && datum.ser !== 'TRange'"}],
                             "mark": {"type": "point", "shape": "circle", "filled": true, "size": 70, "stroke": "#000000", "strokeWidth": 0.8, "opacity": 1},
                             "encoding": {"x": {"datum": "sym", "type": "nominal"}, "fill": {"field": "ser", "type": "nominal", "legend": null}}},
                            {"transform": [{"filter": "datum.part === 'lag0' && datum.ser === 'TRange'"}],
                             "mark": {"type": "point", "shape": "triangle-up", "filled": true, "size": 120, "stroke": "#404040", "strokeWidth": 1, "opacity": 1},
                             "encoding": {"x": {"datum": "sym", "type": "nominal"}, "color": {"field": "ser", "type": "nominal", "scale": {"domain": ["TRange","TMax-1.557TMin","XTMax-TMin"], "range": ["#d0d0d0","#99cc00","#ffc000"]}, "legend": null}}},
                            {"transform": [{"filter": "datum.part === 'lag0' && datum.ser !== 'TRange'"}],
                             "mark": {"type": "point", "shape": "triangle-up", "filled": true, "size": 45, "stroke": "#000000", "strokeWidth": 0.8, "opacity": 1},
                             "encoding": {"x": {"datum": "sym", "type": "nominal"}, "color": {"field": "ser", "type": "nominal", "legend": null}}},
                            {"transform": [{"filter": "datum.part !== 'head'"}],
                             "mark": {"type": "text", "align": "left", "baseline": "middle", "font": "Liberation Sans", "fontSize": 17.5},
                             "encoding": {"x": {"datum": "lab", "type": "nominal"}, "text": {"field": "label"}}},
                            {"transform": [{"filter": "datum.part === 'head'"}],
                             "mark": {"type": "text", "align": "left", "baseline": "middle", "font": "Liberation Sans", "fontSize": 17.5, "xOffset": -22},
                             "encoding": {"x": {"datum": "sym", "type": "nominal"}, "text": {"field": "label"}}}
                          ]
                        }
                      ]
                    },
                    {
                      "spacing": -10,
                      "resolve": {"scale": {"color": "independent", "fill": "independent", "stroke": "independent"}},
                      "hconcat": [
                        {
                          "width": 289, "height": 237,
                          "title": {"text": "(c)", "anchor": "start", "dx": 2, "font": "Liberation Sans", "fontSize": 21, "fontWeight": "normal", "offset": 9},
                          "view": {"stroke": "#808080", "strokeWidth": 1.5},
                          "resolve": {"axis": {"y": "independent"}},
                          "layer": [
                            {"data": {"values": [{"lag": 0, "ser": "Lag = 0"}]},
                             "mark": {"type": "rule", "color": "#ff0000", "strokeWidth": 2},
                             "encoding": {"y": {"field": "lag", "type": "quantitative", "scale": {"domain": [-50, 10], "nice": false, "zero": false},
                                "axis": {"title": "Best Lag (months)",
                                  "values": [10,0,-10,-20,-30,-40,-50],
                                  "labelExpr": "replace(datum.label, '−', '-')",
                                  "labelOverlap": false,
                                  "labelFont": "Liberation Sans", "labelFontWeight": "bold", "labelFontSize": 18, "labelPadding": 10,
                                  "tickSize": 6, "tickWidth": 1.2, "domainWidth": 1.5,
                                  "grid": true,
                                  "titleFont": "Liberation Sans", "titleFontSize": 22, "titleFontWeight": "bold", "titlePadding": 12}}}},
                            {"data": {"name": "cdata"},
                             "mark": {"type": "line", "strokeWidth": 3},
                             "encoding": {"x": {"field": "bw", "type": "quantitative", "scale": {"domain": [0, 12], "nice": false, "zero": false},
                                "axis": {"orient": "top", "title": "Smoothing Bandwidth (years)",
                                  "values": [0,1,2,3,4,5,6,7,8,9,10,11,12],
                                  "labelExpr": "datum.value % 2 === 0 ? datum.label : ''",
                                  "labelOverlap": false,
                                  "labelFont": "Liberation Sans", "labelFontWeight": "bold", "labelFontSize": 18, "labelPadding": 14,
                                  "tickSize": 6, "tickWidth": 1.2, "domainWidth": 1.5,
                                  "grid": true,
                                  "gridDash": {"condition": {"test": "datum.value % 2 === 0", "value": []}, "value": [4, 3]},
                                  "titleFont": "DejaVu Sans", "titleFontSize": 17, "titleFontWeight": "bold", "titlePadding": 17}},
                               "y": {"field": "lag", "type": "quantitative",
                                 "axis": {"orient": "right", "title": null, "values": [5,-5,-15,-25,-35,-45], "labels": false, "ticks": false, "domain": false, "grid": true, "gridDash": [4, 3]}},
                               "stroke": {"field": "ser", "type": "nominal", "scale": {"domain": ["TRange","TMax-1.557TMin","XTMax-TMin","Lag = 0"], "range": ["#808080","#99cc00","#fcd5b4","#ff0000"]}, "legend": null}}},
                            {"data": {"name": "cdata"}, "transform": [{"filter": "datum.ser === 'TRange'"}],
                             "mark": {"type": "point", "shape": "circle", "filled": true, "size": 150, "stroke": "#404040", "strokeWidth": 1, "opacity": 1},
                             "encoding": {"x": {"field": "bw", "type": "quantitative"}, "y": {"field": "lag", "type": "quantitative", "axis": null}, "fill": {"field": "ser", "type": "nominal", "scale": {"domain": ["TRange","TMax-1.557TMin","XTMax-TMin"], "range": ["#808080","#00ff00","#ffc000"]}, "legend": null}}},
                            {"data": {"name": "cdata"}, "transform": [{"filter": "datum.ser !== 'TRange'"}],
                             "mark": {"type": "point", "shape": "circle", "filled": true, "size": 75, "stroke": "#000000", "strokeWidth": 0.8, "opacity": 1},
                             "encoding": {"x": {"field": "bw", "type": "quantitative"}, "y": {"field": "lag", "type": "quantitative", "axis": null}, "fill": {"field": "ser", "type": "nominal", "legend": null}}}
                          ]
                        },
                        {
                          "width": 180, "height": 237,
                          "data": {"name": "legC"},
                          "encoding": {"y": {"field": "key", "type": "nominal", "scale": {"type": "point", "domain": ["r0","r1","r2","r3"], "range": [40, 198], "padding": 0}, "axis": null}},
                          "layer": [
                            {"mark": {"type": "point", "shape": "stroke", "size": 1296, "filled": false, "strokeWidth": 3, "opacity": 1},
                             "encoding": {"x": {"datum": "sym", "type": "nominal", "scale": {"type": "point", "domain": ["sym","lab"], "range": [12, 35], "padding": 0}, "axis": null},
                               "stroke": {"field": "ser", "type": "nominal", "scale": {"domain": ["TRange","TMax-1.557TMin","XTMax-TMin","Lag = 0"], "range": ["#808080","#99cc00","#fcd5b4","#ff0000"]}, "legend": null}}},
                            {"transform": [{"filter": "datum.ser === 'TRange'"}],
                             "mark": {"type": "point", "shape": "circle", "filled": true, "size": 150, "stroke": "#404040", "strokeWidth": 1, "opacity": 1},
                             "encoding": {"x": {"datum": "sym", "type": "nominal"}, "fill": {"field": "ser", "type": "nominal", "scale": {"domain": ["TRange","TMax-1.557TMin","XTMax-TMin"], "range": ["#808080","#00ff00","#ffc000"]}, "legend": null}}},
                            {"transform": [{"filter": "datum.part === 'best' && datum.ser !== 'TRange'"}],
                             "mark": {"type": "point", "shape": "circle", "filled": true, "size": 75, "stroke": "#000000", "strokeWidth": 0.8, "opacity": 1},
                             "encoding": {"x": {"datum": "sym", "type": "nominal"}, "fill": {"field": "ser", "type": "nominal", "legend": null}}},
                            {"mark": {"type": "text", "align": "left", "baseline": "middle", "font": "Liberation Sans", "fontSize": 19.5},
                             "encoding": {"x": {"datum": "lab", "type": "nominal"}, "text": {"field": "label"}}}
                          ]
                        }
                      ]
                    }
                  ]
                }
              ]
            }
          ]
        }
      ]
    }
  ]
}
